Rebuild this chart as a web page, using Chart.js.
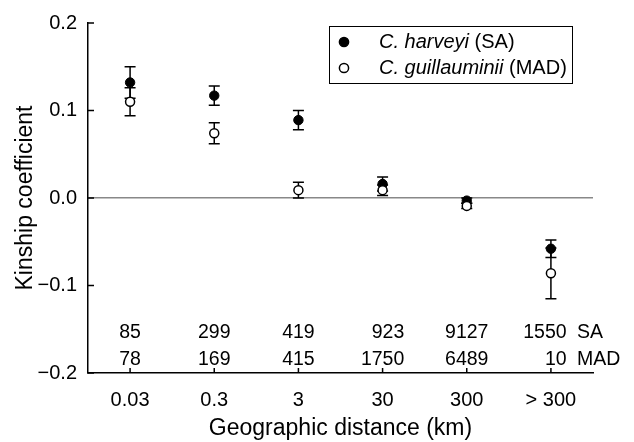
<!DOCTYPE html>
<html lang="en">
<head>
<meta charset="UTF-8">
<title>Kinship coefficient by geographic distance</title>
<script src="https://cdn.jsdelivr.net/npm/chart.js"></script>
<style>
  body { margin: 0; background: #fff; }
  #wrap { width: 634px; height: 442px; position: relative; }
</style>
</head>
<body>
<div id="wrap"><canvas id="chart"></canvas></div>
<script>
// distance classes (km)
const categories = ['0.03', '0.3', '3', '30', '300', '> 300'];

// C. harveyi (SA): mean kinship and SE
const harveyiMean = [0.132, 0.117, 0.089, 0.016, -0.003, -0.058];
const harveyiErr  = [0.018, 0.011, 0.011, 0.008, 0.003, 0.010];

// C. guillauminii (MAD): mean kinship and SE
const guillMean = [0.110, 0.074, 0.009, 0.009, -0.009, -0.086];
const guillErr  = [0.016, 0.012, 0.009, 0.006, 0.003, 0.029];

// pair counts per class
const saCounts  = ['85', '299', '419', '923', '9127', '1550'];
const madCounts = ['78', '169', '415', '1750', '6489', '10'];

const yTicks = [-0.2, -0.1, 0, 0.1, 0.2];

const FONT = "'Liberation Sans', Arial, sans-serif";

function fmtY(v) {
  if (v === 0) return '0.0';
  return (v < 0 ? '\u2212' : '') + Math.abs(v).toFixed(1);
}

const errors = [harveyiErr, guillErr];

// error bars under the markers
const errorBars = {
  id: 'errorBars',
  beforeDatasetsDraw(chart) {
    const { ctx, scales: { x, y } } = chart;
    ctx.save();
    ctx.strokeStyle = '#000';
    ctx.lineWidth = 1.5;
    chart.data.datasets.forEach((ds, di) => {
      ds.data.forEach((p, i) => {
        const px = x.getPixelForValue(p.x);
        const top = y.getPixelForValue(p.y + errors[di][i]);
        const bot = y.getPixelForValue(p.y - errors[di][i]);
        ctx.beginPath();
        ctx.moveTo(px, top); ctx.lineTo(px, bot);
        ctx.moveTo(px - 5.5, top); ctx.lineTo(px + 5.5, top);
        ctx.moveTo(px - 5.5, bot); ctx.lineTo(px + 5.5, bot);
        ctx.stroke();
      });
    });
    ctx.restore();
  }
};

// inward ticks, count table and boxed legend
const extras = {
  id: 'extras',
  afterDraw(chart) {
    const { ctx, scales: { x, y }, chartArea: a } = chart;
    ctx.save();
    ctx.strokeStyle = '#000';
    ctx.lineWidth = 1.5;
    ctx.beginPath();
    yTicks.forEach(v => {
      const py = y.getPixelForValue(v);
      ctx.moveTo(a.left, py); ctx.lineTo(a.left + 6, py);
    });
    categories.forEach((c, i) => {
      const px = x.getPixelForValue(i);
      ctx.moveTo(px, a.bottom); ctx.lineTo(px, a.bottom - 5);
    });
    ctx.stroke();

    // counts, right aligned in pairs
    ctx.fillStyle = '#000';
    ctx.font = '19.5px ' + FONT;
    ctx.textBaseline = 'middle';
    ctx.textAlign = 'right';
    categories.forEach((c, i) => {
      const px = x.getPixelForValue(i) - (i === categories.length - 1 ? 6 : 0);
      const w = Math.max(ctx.measureText(saCounts[i]).width, ctx.measureText(madCounts[i]).width);
      ctx.fillText(saCounts[i], px + w / 2, 333);
      ctx.fillText(madCounts[i], px + w / 2, 360);
    });
    ctx.textAlign = 'left';
    ctx.fillText('SA', 577, 333);
    ctx.fillText('MAD', 577, 360);

    // legend
    ctx.lineWidth = 1;
    ctx.strokeRect(329.5, 26.5, 243, 57);
    const rows = [
      { y: 42, fill: '#000', it: 'C. harveyi', rest: ' (SA)' },
      { y: 68, fill: '#fff', it: 'C. guillauminii', rest: ' (MAD)' }
    ];
    rows.forEach(r => {
      ctx.beginPath();
      ctx.arc(344, r.y, 4.6, 0, Math.PI * 2);
      ctx.fillStyle = r.fill;
      ctx.fill();
      ctx.lineWidth = 1.5;
      ctx.stroke();
      ctx.fillStyle = '#000';
      ctx.textBaseline = 'middle';
      ctx.font = 'italic 20px ' + FONT;
      ctx.fillText(r.it, 379, r.y);
      const w = ctx.measureText(r.it).width;
      ctx.font = '20px ' + FONT;
      ctx.fillText(r.rest, 379 + w, r.y);
    });
    ctx.restore();
  }
};

new Chart(document.getElementById('chart'), {
  type: 'scatter',
  data: {
    datasets: [
      {
        label: 'C. harveyi (SA)',
        data: harveyiMean.map((v, i) => ({ x: i, y: v })),
        pointRadius: 4.7,
        pointBackgroundColor: '#000',
        pointBorderColor: '#000',
        pointBorderWidth: 1,
        order: 2
      },
      {
        label: 'C. guillauminii (MAD)',
        data: guillMean.map((v, i) => ({ x: i, y: v })),
        pointRadius: 4.5,
        pointBackgroundColor: '#fff',
        pointBorderColor: '#000',
        pointBorderWidth: 1.5,
        order: 1
      }
    ]
  },
  options: {
    responsive: true,
    maintainAspectRatio: false,
    animation: false,
    layout: { padding: { top: 21, right: 41, left: 0, bottom: 0 } },
    plugins: { legend: { display: false }, tooltip: { enabled: false } },
    scales: {
      x: {
        type: 'linear',
        min: -0.5,
        max: 5.5,
        afterBuildTicks: s => { s.ticks = categories.map((c, i) => ({ value: i })); },
        afterFit: s => { s.height = 69; },
        grid: { display: false, drawTicks: false },
        border: { display: true, color: '#000', width: 1.5 },
        ticks: {
          color: '#000',
          font: { family: FONT, size: 20 },
          padding: 15,
          maxRotation: 0,
          callback: v => categories[v]
        },
        title: {
          display: true,
          text: 'Geographic distance (km)',
          color: '#000',
          font: { family: FONT, size: 23 },
          padding: 0
        }
      },
      y: {
        min: -0.2,
        max: 0.2,
        afterBuildTicks: s => { s.ticks = yTicks.map(v => ({ value: v })); },
        afterFit: s => { s.width = 88; },
        grid: {
          drawTicks: false,
          color: c => (c.tick && c.tick.value === 0 ? '#888' : 'rgba(0,0,0,0)'),
          lineWidth: 1.5
        },
        border: { display: true, color: '#000', width: 1.5 },
        ticks: {
          color: '#000',
          font: { family: FONT, size: 20 },
          padding: 11,
          callback: v => fmtY(v)
        },
        title: {
          display: true,
          text: 'Kinship coefficient',
          color: '#000',
          font: { family: FONT, size: 23 },
          padding: { top: 12, bottom: 0 }
        }
      }
    }
  },
  plugins: [errorBars, extras]
});
</script>
</body>
</html>
